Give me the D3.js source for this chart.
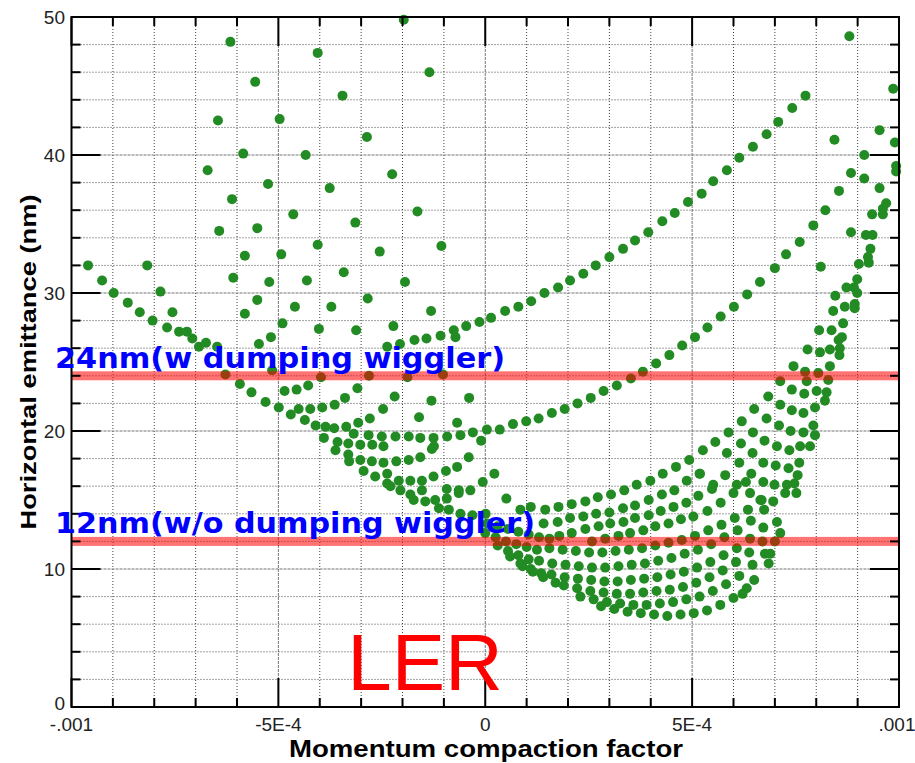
<!doctype html>
<html lang="en">
<head>
  <meta charset="utf-8">
  <title>LER emittance vs momentum compaction</title>
  <style>
    body { margin: 0; background: #fff; }
    svg { display: block; }
  </style>
</head>
<body>
<svg id="mysvg"></svg>
<script src="https://d3js.org/d3.v7.min.js"></script>
<script>
var width = 915;
var height = 763;

// x values are stored in units of 1e-4 (momentum compaction factor)
var X_UNIT = 1e-4;

var xTicks = [-0.001, -0.0005, 0, 0.0005, 0.001];
var xTickLabels = ["-.001", "-5E-4", "0", "5E-4", ".001"];
var yTicks = [0, 10, 20, 30, 40, 50];
var yTickLabels = ["0", "10", "20", "30", "40", "50"];

var bandValues = [24, 12];
var bandLabels = ["24nm(w dumping wiggler)", "12nm(w/o dumping wiggler)"];

// sparse steep branches, upper left
var upperBranches = [
  [-6.16,48.2],[-4.05,47.4],[-5.56,45.3],[-3.45,44.3],[-6.46,42.5],[-4.97,42.6],[-2.86,41.3],
  [-5.85,40.1],[-4.34,40.0],[-6.71,38.9],[-5.25,37.9],[-3.76,37.6],[-6.12,36.8],[-4.64,35.7],
  [-3.14,35.1],[-6.43,34.5],[-5.51,34.7],[-4.05,33.5],[-5.81,32.7],[-4.93,32.8],[-6.09,31.1],
  [-5.22,30.8],[-4.31,30.9],[-3.42,31.5],[-2.84,29.6],[-5.51,29.5],[-4.60,29.0],[-3.72,29.0],
  [-5.81,28.5],[-4.90,27.8],[-4.02,27.4],[-3.12,27.3],[-5.18,26.8],[-5.47,26.3],
  [-1.97,49.8],[-1.35,46.0],[-2.25,38.6],[-1.64,35.9],[-2.55,33.0],[-1.06,33.4],[-1.94,30.8],
  [-1.31,28.7],[-2.22,27.6],[-8.17,32.0],[-7.85,30.1],[-7.56,28.6]
];

// outer descending chain on the left
var leftEnvelope = [
  [-9.60,32.0],[-9.26,30.9],[-8.98,30.0],[-8.64,29.3],[-8.35,28.6],[-8.04,28.0],[-7.69,27.5],
  [-7.40,27.2],[-7.21,27.2],[-7.08,26.7],[-6.75,26.4],[-6.92,26.1],[-6.48,26.1],[-6.28,24.1],
  [-5.93,23.4],[-5.65,22.8],[-5.31,22.1],[-4.99,21.7],[-4.70,21.2],[-4.36,20.8],[-4.10,20.4],
  [-3.86,20.3],[-3.65,20.2]
];

var midBranches = [
  [-5.15,24.4],[-4.85,22.9],[-4.56,23.0],[-4.28,23.3],[-3.97,23.9],[-4.51,21.6],[-4.23,21.6],
  [-3.94,21.7],[-3.64,21.9],[-3.39,22.4],[-3.09,23.1],[-2.81,24.0],[-1.88,23.9],[-1.02,24.1],
  [-2.19,22.5],[-1.30,22.2],[-0.39,22.4],[-2.47,21.6],[-1.60,21.0],[-0.68,20.6],[-2.79,20.9],
  [-3.07,20.6],[-3.36,20.3]
];

// flat rows left of zero
var leftRows = [
  [-3.18,19.8],[-2.82,19.7],[-2.50,19.6],[-2.17,19.6],[-1.85,19.6],[-1.57,19.5],[-1.25,19.5],
  [-0.92,19.6],[-0.60,19.7],[-0.30,19.9],[-0.10,19.3],
  [-3.90,19.5],[-3.57,19.2],[-3.31,19.1],[-3.02,19.0],[-2.73,19.0],[-2.46,18.9],[-1.24,18.9],
  [-3.62,18.6],[-3.31,18.3],[-3.29,17.8],[-3.02,17.9],[-2.74,17.8],[-2.46,17.7],[-2.15,17.8],
  [-1.85,17.9],[-1.57,18.1],[-1.29,18.7],[-0.68,17.4],[-0.40,18.1],[-0.95,17.1],
  [-2.94,17.1],[-2.66,16.7],[-2.37,16.9],[-2.09,16.4],[-1.81,16.4],[-1.53,16.4],[-1.25,16.7],
  [-0.06,16.3],[0.22,16.9],
  [-2.37,16.2],[-2.29,16.0],[-2.05,15.7],[-1.81,15.4],[-1.53,15.7],[-0.93,15.8],[-0.64,15.7],
  [-0.36,15.7],[-0.64,15.5],
  [-1.73,15.0],[-1.45,14.9],[-1.21,15.0],[-0.93,15.1],[-1.12,14.4],[-0.88,14.3],[-0.60,14.0],
  [-0.31,13.9],[0.01,14.0]
];

// the two long rising arcs
var arcUpper = [
  [-2.37,26.1],[-2.06,26.3],[-1.71,26.6],[-1.42,26.7],[-1.08,26.9],[-0.76,27.3],[-0.72,26.8],
  [-0.46,27.6],[-0.14,27.9],[0.14,28.2],[0.48,28.7],[0.80,29.0],[1.11,29.4],[1.43,30.0],
  [1.76,30.4],[2.05,30.9],[2.37,31.4],[2.67,32.0],[3.00,32.6],[3.33,33.2],[3.62,33.8],
  [3.94,34.4],[4.28,35.2],[4.58,35.8],[4.90,36.6],[5.23,37.2],[5.51,38.1],[5.84,38.9],
  [6.14,39.8],[6.47,40.6],[6.80,41.5],[7.08,42.4],[7.42,43.4],[7.74,44.3],[8.80,48.6]
];
var arcLower = [
  [0.04,20.1],[0.35,20.1],[0.67,20.5],[0.99,20.7],[1.29,20.9],[1.61,21.3],[1.92,21.6],
  [2.23,22.0],[2.55,22.4],[2.86,22.9],[3.18,23.3],[3.52,23.8],[3.81,24.3],[4.13,24.9],
  [4.45,25.5],[4.76,26.2],[5.07,26.8],[5.37,27.5],[5.69,28.3],[6.01,29.0],[6.33,29.9],
  [6.64,30.8],[7.00,31.8],[7.27,32.8],[7.60,33.7],[7.93,34.9],[8.22,36.0],[8.55,37.4],
  [8.84,38.7],[9.16,40.0],[9.53,41.8],[9.86,44.8]
];

// steep cluster near the right edge
var rightCluster = [
  [9.90,40.9],[8.44,41.1],[9.16,38.3],[9.93,39.2],[9.93,38.8],[9.53,37.6],[9.69,36.5],
  [9.35,35.7],[9.61,35.7],[9.61,36.1],[8.84,34.4],[9.20,34.2],[9.36,34.2],[9.31,33.2],
  [9.25,32.6],[9.27,32.2],[9.03,32.1],[8.11,31.9],[8.99,31.0],[8.73,30.4],[8.91,30.4],
  [8.99,30.0],[8.46,29.8],[8.69,29.0],[8.93,29.2],[8.93,28.9],[8.41,28.7],[8.65,27.8],
  [8.07,27.3],[8.37,27.3],[8.54,26.6],[8.62,26.8],
  [7.79,25.9],[8.09,25.7],[8.33,25.9],[8.57,26.0],[8.56,25.5],[7.45,24.7],[7.73,24.3],
  [8.05,24.2],[8.33,24.7],[7.13,23.6],[7.77,23.6],[8.29,23.7],[7.41,23.0],[7.71,22.7],
  [8.01,22.9],[8.25,22.8],[8.21,22.2],[6.84,22.5],[7.13,21.9],[7.41,21.5],[7.69,21.3],
  [7.97,21.7],[6.50,21.6],[6.80,20.9],[7.10,20.4],[7.38,20.0],[7.69,19.9],[7.93,20.4],
  [7.97,19.7],[7.85,18.9],[7.61,18.9],[6.20,20.7],[6.47,19.9],[6.75,19.3],[7.05,18.9],
  [7.35,18.6],[5.88,19.9],[6.18,19.1],[6.46,18.4],[6.72,17.7],[7.02,17.5],[7.33,17.3],
  [7.59,17.7],[5.56,19.2],[5.84,18.4],[6.14,17.7],[6.43,16.9],[6.72,16.3],[6.99,16.1],
  [7.29,16.1],[7.55,16.8],[7.47,16.2],[7.52,15.5],[7.25,15.5],[6.96,14.9],[6.68,15.0],
  [6.40,15.5],[6.08,16.1],[5.80,16.8],[5.51,16.1],[5.19,16.9]
];

// dense fan, upper rows
var fanRows = [
  [0.51,15.1],[1.10,14.5],[1.45,14.3],[1.77,14.5],[2.09,14.7],[2.42,14.9],[2.72,15.2],
  [3.04,15.4],[3.36,15.7],[3.66,16.1],[3.99,16.4],[4.29,16.9],[4.61,17.4],[4.93,17.9],[5.26,18.6],
  [0.85,14.3],[1.41,13.3],[1.75,13.4],[2.05,13.7],[2.37,13.8],[2.68,14.0],[3.00,14.1],
  [3.33,14.4],[3.62,14.6],[3.95,15.0],[4.27,15.4],[4.57,15.7],[4.87,16.4],[5.18,16.9],
  [1.79,12.4],[2.09,12.6],[2.42,12.9],[2.74,13.1],[3.02,13.3],[3.34,13.4],[3.62,13.7],
  [3.95,13.9],[4.24,14.2],[4.55,14.5],[4.86,14.8],[5.15,15.3],[5.48,15.8],
  [2.58,12.0],[2.90,12.2],[3.22,12.4],[3.50,12.6],[3.82,12.8],[4.11,13.1],[4.43,13.3],
  [4.73,13.6],[5.03,13.8],[5.37,14.2],[5.69,14.8],[6.00,15.5],[6.30,16.3]
];

// dense band just right of zero, under the 12nm line
var fanBand = [
  [0.05,13.3],[0.30,13.1],[0.55,12.9],[0.80,12.7],[1.05,12.5],[1.30,12.3],[1.55,12.2],
  [0.00,12.6],[0.25,12.3],[0.50,12.0],[0.75,11.8],[1.00,11.6],[1.25,11.4],
  [0.30,11.7],[0.55,11.3],[0.80,11.0],[1.05,10.7],
  [0.60,10.9],[0.85,10.4],[1.10,10.0],[1.35,9.7],
  [0.90,10.2],[1.15,9.8],[1.40,9.4],[1.70,9.0]
];

// dense fan, lower rows (bottom of the bowl)
var fanLower = [
  [1.55,11.5],[1.87,11.4],[2.19,11.3],[2.51,11.2],[2.83,11.2],[3.15,11.3],[3.47,11.4],[3.79,11.5],
  [4.11,11.7],[4.43,11.9],[4.75,12.1],[5.07,12.4],[5.39,12.8],[5.71,13.2],[6.03,13.7],[6.35,14.3],[6.65,15.0],
  [1.30,10.6],[1.62,10.4],[1.94,10.3],[2.26,10.2],[2.58,10.1],[2.90,10.1],[3.22,10.2],[3.54,10.3],
  [3.86,10.4],[4.18,10.6],[4.50,10.8],[4.82,11.1],[5.14,11.4],[5.46,11.8],[5.78,12.3],[6.10,12.8],
  [6.42,13.5],[6.74,14.3],
  [1.60,9.6],[1.92,9.4],[2.24,9.3],[2.56,9.2],[2.88,9.1],[3.20,9.1],[3.52,9.2],[3.84,9.3],
  [4.16,9.4],[4.48,9.6],[4.80,9.8],[5.12,10.1],[5.44,10.5],[5.76,11.0],[6.08,11.5],[6.40,12.2],[6.72,13.0],
  [1.90,8.8],[2.22,8.6],[2.54,8.4],[2.86,8.3],[3.18,8.2],[3.50,8.2],[3.82,8.3],[4.14,8.4],
  [4.46,8.5],[4.78,8.7],[5.10,9.0],[5.42,9.4],[5.74,9.9],[6.06,10.5],[6.38,11.2],[6.70,12.0],
  [2.30,8.0],[2.62,7.8],[2.94,7.6],[3.26,7.5],[3.58,7.4],[3.90,7.4],[4.22,7.5],[4.54,7.6],
  [4.86,7.8],[5.18,8.0],[5.50,8.4],[5.82,8.9],[6.14,9.5],[6.46,10.3],[6.76,11.1],
  [2.80,7.3],[3.12,7.1],[3.44,6.9],[3.76,6.8],[4.08,6.7],[4.40,6.6],[4.72,6.7],[5.04,6.8],
  [5.36,7.0],[5.68,7.4],[6.00,7.9],[6.32,8.6],
  [6.22,8.2],[6.50,9.2],[6.85,10.4],[6.89,11.1],[7.00,12.0],[7.13,12.6],[7.05,13.4]
];

var groups = [upperBranches, leftEnvelope, midBranches, leftRows, arcUpper, arcLower,
              rightCluster, fanRows, fanBand, fanLower];
var points = [];
groups.forEach(function(g) {
  g.forEach(function(p) { points.push({x: p[0] * X_UNIT, y: p[1]}); });
});

var svg = d3.select("#mysvg")
  .attr("width", width)
  .attr("height", height);

var x = d3.scaleLinear().domain([-0.001, 0.001]).range([71.5, 899]);
var y = d3.scaleLinear().domain([0, 50]).range([707, 17]);

var x0 = x.range()[0], x1 = x.range()[1];
var y0 = y.range()[0], y1 = y.range()[1];

// grid
var xMinor = d3.range(-10, 11).map(function(d) { return d * X_UNIT; });
var yMinor = d3.range(0, 51, 2);
function isMajorX(v) { return Math.abs(Math.round(v / 5e-4) * 5e-4 - v) < 1e-9; }
function isMajorY(v) { return v % 10 === 0; }

var grid = svg.append("g");
grid.selectAll("line.gx").data(xMinor.filter(function(v) { return v > -0.001 && v < 0.001; }))
  .enter().append("line")
  .attr("x1", function(d) { return x(d); }).attr("x2", function(d) { return x(d); })
  .attr("y1", y1).attr("y2", y0)
  .style("stroke", function(d) { return isMajorX(d) ? "#777" : "#444"; })
  .style("stroke-width", 1)
  .style("stroke-dasharray", function(d) { return isMajorX(d) ? "3,1" : "1,2"; });
grid.selectAll("line.gy").data(yMinor.filter(function(v) { return v > 0 && v < 50; }))
  .enter().append("line")
  .attr("y1", function(d) { return y(d); }).attr("y2", function(d) { return y(d); })
  .attr("x1", x0).attr("x2", x1)
  .style("stroke", function(d) { return isMajorY(d) ? "#777" : "#444"; })
  .style("stroke-width", 1)
  .style("stroke-dasharray", function(d) { return isMajorY(d) ? "3,1" : "1,2"; });

// points
svg.append("g").selectAll("circle").data(points)
  .enter().append("circle")
  .attr("cx", function(d) { return x(d.x); })
  .attr("cy", function(d) { return y(d.y); })
  .attr("r", 5)
  .style("fill", "#238b23");

// red target bands
svg.append("g").selectAll("rect").data(bandValues)
  .enter().append("rect")
  .attr("x", x0).attr("width", x1 - x0)
  .attr("y", function(d) { return y(d) - 4.5; })
  .attr("height", 9)
  .style("fill", "#ff0000")
  .style("opacity", 0.55);

// ticks on all four sides, pointing inward
var ticks = svg.append("g").style("stroke", "#000").style("stroke-width", 2);
xMinor.forEach(function(v) {
  var len = isMajorX(v) ? 29 : 9;
  ticks.append("line").attr("x1", x(v)).attr("x2", x(v)).attr("y1", y0).attr("y2", y0 - len);
  ticks.append("line").attr("x1", x(v)).attr("x2", x(v)).attr("y1", y1).attr("y2", y1 + len);
});
yMinor.forEach(function(v) {
  var len = isMajorY(v) ? 29 : 9;
  ticks.append("line").attr("y1", y(v)).attr("y2", y(v)).attr("x1", x0).attr("x2", x0 + len);
  ticks.append("line").attr("y1", y(v)).attr("y2", y(v)).attr("x1", x1).attr("x2", x1 - len);
});
svg.append("rect")
  .attr("x", x0).attr("y", y1).attr("width", x1 - x0).attr("height", y0 - y1)
  .style("fill", "none").style("stroke", "#000").style("stroke-width", 2);

// tick labels
svg.append("g").selectAll("text").data(xTicks)
  .enter().append("text")
  .attr("x", function(d, i) { return i === xTicks.length - 1 ? x(d) - 2 : x(d); })
  .attr("y", 731)
  .attr("text-anchor", "middle")
  .style("font-family", "Liberation Sans, Arial, sans-serif")
  .style("font-size", "19px")
  .style("fill", "#222")
  .text(function(d, i) { return xTickLabels[i]; });

svg.append("g").selectAll("text").data(yTicks)
  .enter().append("text")
  .attr("x", 65)
  .attr("y", function(d) { return d === 0 ? y(d) + 3 : y(d) + 7; })
  .attr("text-anchor", "end")
  .style("font-family", "Liberation Sans, Arial, sans-serif")
  .style("font-size", "19px")
  .style("fill", "#222")
  .text(function(d, i) { return yTickLabels[i]; });

// axis titles
svg.append("text")
  .attr("x", 486).attr("y", 757)
  .attr("text-anchor", "middle")
  .attr("textLength", 394).attr("lengthAdjust", "spacingAndGlyphs")
  .style("font-family", "Liberation Sans, Arial, sans-serif")
  .style("font-weight", "bold")
  .style("font-size", "24px")
  .text("Momentum compaction factor");

svg.append("text")
  .attr("transform", "translate(36,362) rotate(-90)")
  .attr("text-anchor", "middle")
  .attr("textLength", 335).attr("lengthAdjust", "spacingAndGlyphs")
  .style("font-family", "Liberation Sans, Arial, sans-serif")
  .style("font-weight", "bold")
  .style("font-size", "22px")
  .text("Horizontal emittance (nm)");

// band labels
var bandLabelWidth = [450, 480];
svg.append("g").selectAll("text").data(bandValues)
  .enter().append("text")
  .attr("x", 55)
  .attr("y", function(d) { return y(d) - 8; })
  .attr("textLength", function(d, i) { return bandLabelWidth[i]; })
  .attr("lengthAdjust", "spacingAndGlyphs")
  .style("font-family", "DejaVu Sans, sans-serif")
  .style("font-weight", "bold")
  .style("font-size", "29px")
  .style("fill", "#0000ff")
  .text(function(d, i) { return bandLabels[i]; });

svg.append("text")
  .attr("x", 425).attr("y", 690)
  .attr("text-anchor", "middle")
  .style("font-family", "Liberation Sans, Arial, sans-serif")
  .style("font-size", "80px")
  .style("fill", "#ff0000")
  .text("LER");
</script>
</body>
</html>
